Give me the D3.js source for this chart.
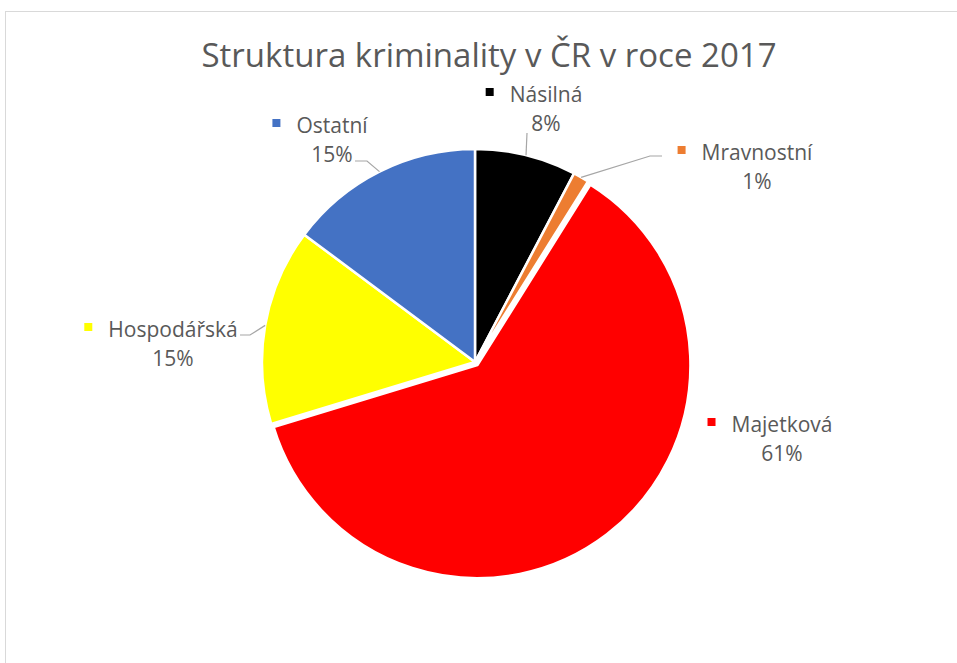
<!DOCTYPE html>
<html>
<head>
<meta charset="utf-8">
<script src="https://cdn.jsdelivr.net/npm/d3@7"></script>
<style>
  html, body { margin: 0; padding: 0; background: #fff; }
  svg { display: block; font-family: 'Open Sans', Lato, sans-serif; }
</style>
</head>
<body>
<div id="chart"></div>
<script>
const title = 'Struktura kriminality v ČR v roce 2017'
const categories = ['Násilná', 'Mravnostní', 'Majetková', 'Hospodářská', 'Ostatní']
const values = [7.7, 1.2, 61.4, 14.9, 14.8]
const colors = ['#000000', '#ed7d31', '#ff0000', '#ffff00', '#4472c4']

// label placement relative to pie centre (Excel-like manual layout)
const labelLayout = [
  { dx: 71, dy: -260, leader: [[-19, 31]] },
  { dx: 282, dy: -202, leader: [[-107, -4], [-95, -4]] },
  { dx: 307, dy: 70, leader: null },
  { dx: -302, dy: -25, leader: [[77, -2], [67, -2]] },
  { dx: -143, dy: -229, leader: [[35, 28], [23, 28]] }
]
const exploded = [0, 0, 4, 0, 0]

const width = 957
const height = 663
const cx = 475
const cy = 362
const radius = 213
const textColor = '#595959'

const svg = d3.select('#chart')
  .append('svg')
  .attr('width', width)
  .attr('height', height)

svg.append('rect')
  .attr('x', 5.5)
  .attr('y', 11.5)
  .attr('width', width + 20)
  .attr('height', height + 20)
  .attr('fill', '#fff')
  .attr('stroke', '#d9d9d9')

svg.append('text')
  .attr('x', 489)
  .attr('y', 67)
  .attr('text-anchor', 'middle')
  .attr('fill', textColor)
  .style('font-size', '33px')
  .text(title)

const data = categories.map((name, i) => ({ name, value: values[i], color: colors[i], i }))
const total = d3.sum(values)

const pie = d3.pie()
  .value(d => d.value)
  .sort(null)

const arc = d3.arc()
  .innerRadius(0)
  .outerRadius(radius)

const edge = d3.arc()
  .innerRadius(radius)
  .outerRadius(radius)

const arcs = pie(data)

const g = svg.append('g')
  .attr('transform', `translate(${cx},${cy})`)

g.selectAll('path.slice')
  .data(arcs)
  .join('path')
  .attr('class', 'slice')
  .attr('d', arc)
  .attr('transform', d => {
    const a = (d.startAngle + d.endAngle) / 2
    const off = exploded[d.data.i]
    return `translate(${Math.sin(a) * off},${-Math.cos(a) * off})`
  })
  .attr('fill', d => d.data.color)
  .attr('stroke', '#fff')
  .attr('stroke-width', 2.5)
  .attr('stroke-linejoin', 'round')

// leader lines
g.selectAll('polyline.leader')
  .data(arcs.filter(d => labelLayout[d.data.i].leader))
  .join('polyline')
  .attr('class', 'leader')
  .attr('fill', 'none')
  .attr('stroke', '#a6a6a6')
  .attr('stroke-width', 1.2)
  .attr('points', d => {
    const lay = labelLayout[d.data.i]
    const pts = [edge.centroid(d)]
    lay.leader.forEach(([x, y]) => pts.push([lay.dx + x, lay.dy + y]))
    return pts.map(p => p.join(',')).join(' ')
  })

const label = g.selectAll('g.label')
  .data(arcs)
  .join('g')
  .attr('class', 'label')
  .attr('transform', d => {
    const lay = labelLayout[d.data.i]
    return `translate(${lay.dx},${lay.dy})`
  })

label.append('text')
  .attr('text-anchor', 'middle')
  .attr('fill', textColor)
  .style('font-size', '21px')
  .text(d => d.data.name)

label.append('text')
  .attr('text-anchor', 'middle')
  .attr('y', 29)
  .attr('fill', textColor)
  .style('font-size', '21px')
  .text(d => `${Math.round(d.data.value / total * 100)}%`)

label.each(function () {
  const t = d3.select(this).select('text').node()
  const w = t.getComputedTextLength()
  d3.select(this).append('rect')
    .attr('x', -w / 2 - 24)
    .attr('y', -14)
    .attr('width', 8)
    .attr('height', 8)
    .attr('fill', d => d.data.color)
})
</script>
</body>
</html>
